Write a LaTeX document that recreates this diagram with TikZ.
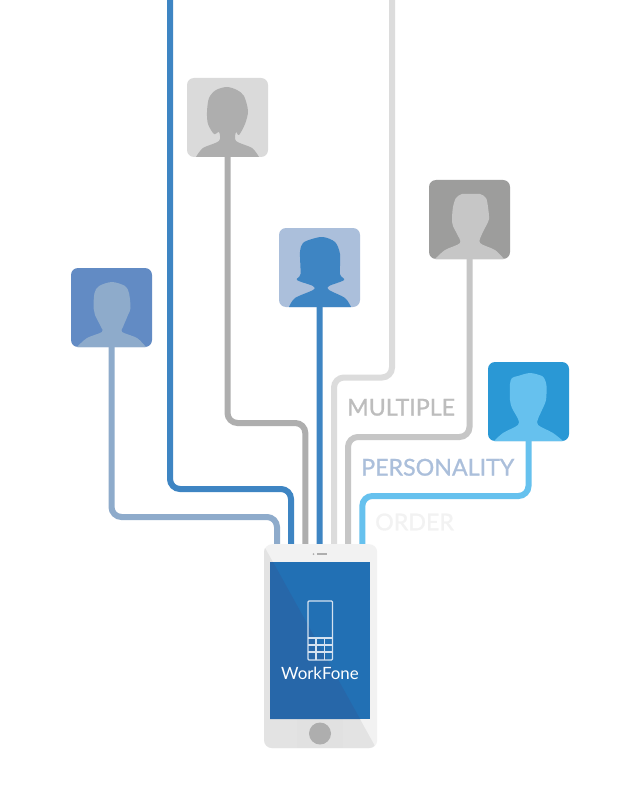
\documentclass[tikz,border=0pt]{standalone}
\usepackage{fontspec}
\setmainfont{Lato}
\newfontfamily\tagfont[FakeBold=1]{Lato}
\definecolor{cA}{HTML}{628BC4}\definecolor{fA}{HTML}{8EABCB}
\definecolor{cB}{HTML}{DADADA}\definecolor{fB}{HTML}{AEAEAE}
\definecolor{cC}{HTML}{ABBFDB}\definecolor{fC}{HTML}{3E85C3}
\definecolor{cD}{HTML}{9D9D9C}\definecolor{fD}{HTML}{C6C6C6}
\definecolor{cE}{HTML}{2A98D5}\definecolor{fE}{HTML}{66C1EE}
\definecolor{lineG}{HTML}{DCDCDC}\definecolor{tagG}{HTML}{BDBDBD}
\definecolor{bodyL}{HTML}{F2F2F2}\definecolor{bodyD}{HTML}{E3E3E3}
\definecolor{panelC}{HTML}{E1E1E1}
\definecolor{scrL}{HTML}{2270B4}\definecolor{scrD}{HTML}{2767A9}
\definecolor{iconC}{HTML}{D5E2F0}
\tikzset{
  avatarbox/.style={rectangle,rounded corners=7pt,minimum width=81pt,minimum height=79pt,inner sep=0pt,outer sep=0pt,fill=#1},
  wire/.style={line width=6pt,rounded corners=10pt,draw=#1},
  tag/.style={anchor=west,inner sep=0pt,font=\tagfont\fontsize{23.2}{23.2}\selectfont,text=#1},
  sil/.style={smooth,tension=0.5},
}
\newcommand{\manA}{(6,79) -- plot[sil] coordinates {(6,79)(16,70)(31,64)(30,59)(24,47)(22.5,40)(23.5,25)(28,18)(41,14)(54,18)(58,25)(59.5,40)(57,47)(52,59)(51,64)(66,70)(75,79)} -- cycle}
\newcommand{\manC}{(6,79) -- plot[sil] coordinates {(6,79)(16,70)(31,63)(28,54)(24,46)(23,39)(24,27)(27,18)(33,14)(42,14)(51,14)(57,18)(59,27)(60,39)(57,46)(53,54)(51,63)(66,70)(75,79)} -- cycle}
\newcommand{\manB}{(6,79) -- plot[sil] coordinates {(6,79)(15,71)(30,63)(30,57)(24,46)(22,38)(22,22)(24,16)(30,14)(42,11)(54,14)(57,18)(58.5,24)(58,38)(54,48)(50,57)(50,63)(65,71)(75,79)} -- cycle}
\newcommand{\womanA}{(9,79) -- plot[sil] coordinates {(9,79)(16,70)(32,63)(32,54)(27,56)(21,46)(20,34)(22,20)(29,12)(40,9)(50,12)(57,18)(61,33)(58,46)(52,57)(49,54)(49,63)(65,70)(72,79)} -- cycle}
\newcommand{\womanB}{(10,79) -- plot[sil] coordinates {(10,79)(16,70)(34,62)(34,58)(18,52)(21.5,46)(21,24)(24,15)(33,11)(44,9)(56,14)(61,26)(61,46)(65,52)(50,58)(50,62)(66,70)(72,79)} -- cycle}
\begin{document}
\begin{tikzpicture}[x=1pt,y=-1pt]
\useasboundingbox (0,0) rectangle (639,810);
\fill[white] (0,0) rectangle (639,810);
% phone anchor coordinates
\coordinate (p1) at (277,546);\coordinate (p2) at (291,546);\coordinate (p3) at (305.3,546);
\coordinate (p4) at (319.7,546);\coordinate (p5) at (334,546);\coordinate (p6) at (348,546);\coordinate (p7) at (362.3,546);
\coordinate (b1) at (277,517);\coordinate (b2) at (291,489);\coordinate (b3) at (305.3,423);
\coordinate (b5) at (334,377.5);\coordinate (b6) at (348,437);\coordinate (b7) at (362.3,496);
\coordinate (t2) at (170,0);\coordinate (t5) at (392,0);
% avatars
\node[avatarbox=cA,anchor=north west] (a1) at (71,268) {};
\node[avatarbox=cB,anchor=north west] (a2) at (187,78) {};
\node[avatarbox=cC,anchor=north west] (a3) at (279,228) {};
\node[avatarbox=cD,anchor=north west] (a4) at (429,180) {};
\node[avatarbox=cE,anchor=north west] (a5) at (488,362) {};
\begin{scope}[shift={(71,268)}]\fill[fA] \manA;\end{scope}
\begin{scope}[shift={(187,78)}]\fill[fB] \womanA;\end{scope}
\begin{scope}[shift={(279,228)}]\fill[fC] \womanB;\end{scope}
\begin{scope}[shift={(429,180)}]\fill[fD] \manC;\end{scope}
\begin{scope}[shift={(488,362)}]\fill[fE] \manB;\end{scope}
% connectors
\draw[wire=fA] (a1.south) |- (b1) -- (p1);
\draw[wire=fC] (t2) |- (b2) -- (p2);
\draw[wire=fB] (a2.south) |- (b3) -- (p3);
\draw[wire=fC] (a3.south) -- (p4);
\draw[wire=lineG] (t5) |- (b5) -- (p5);
\draw[wire=fD] (a4.south) |- (b6) -- (p6);
\draw[wire=fE] (a5.south) |- (b7) -- (p7);
% labels
\node[tag=tagG] (m) at (347,407.3) {MULTIPLE};
\node[tag=cC] (n) at (361,467.3) {PERSONALITY};
\node[tag=bodyL] (o) at (375,522) {ORDER};
% phone
\node[rectangle,rounded corners=8pt,minimum width=113pt,minimum height=204pt,inner sep=0pt,fill=bodyL,anchor=north west] (phone) at (264,544) {};
\begin{scope}
\clip[rounded corners=8pt] (264,544) rectangle (377,748);
\fill[bodyD] (264,546) -- (376,748) -- (264,748) -- cycle;
\end{scope}
\fill[panelC] (297,719) rectangle (343,748);
\node[rectangle,minimum width=100pt,minimum height=157pt,inner sep=0pt,fill=scrL,anchor=north west] (screen) at (270,562) {};
\fill[scrD] (273,562) -- (360,719) -- (270,719) -- (270,562) -- cycle;
\node[circle,minimum size=22pt,inner sep=0pt,fill=fB] (home) at (320,733.5) {};
\fill[fB] (313.5,554) circle (1pt);
\fill[fB] (317,553) rectangle (327,555);
% handset icon
\draw[iconC,line width=1.1pt,rounded corners=1pt] (308,601) rectangle (332.5,660);
\draw[iconC,line width=1.1pt] (308,638) -- (332.5,638) (308,645) -- (332.5,645) (308,652) -- (332.5,652)
  (316,638) -- (316,660) (324.5,638) -- (324.5,660);
\node[inner sep=0pt,text=white,font=\fontsize{16.9}{16.9}\selectfont] (brand) at (320,673.5) {WorkFone};
\end{tikzpicture}
\end{document}
